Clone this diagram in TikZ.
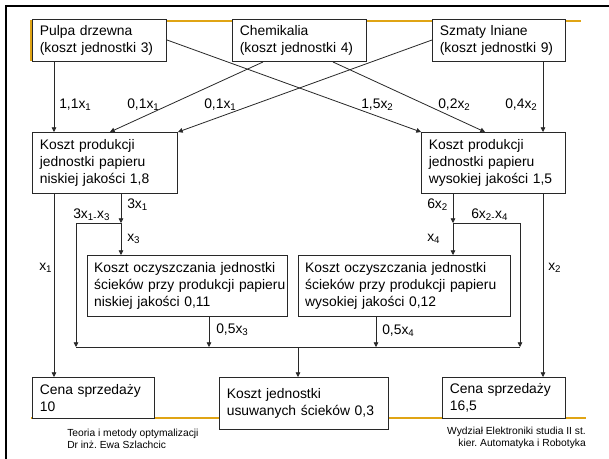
\documentclass[tikz,border=0pt]{standalone}
\usepackage{fontspec}
\setmainfont{Liberation Sans}
\usetikzlibrary{arrows.meta}
\definecolor{gold}{RGB}{224,164,20}
\definecolor{ink}{RGB}{40,40,40}
\frenchspacing
\begin{document}
\begin{tikzpicture}[x=0.75pt,y=-0.75pt,
  box/.style={draw=ink, line width=0.75pt, fill=white, anchor=north west, inner xsep=5.5pt, inner ysep=0pt, align=left, font=\fontsize{10.4}{12.75}\selectfont},
  wide/.style={inner xsep=5pt},
  arr/.style={draw=ink, line width=0.6pt, -{Triangle[length=3.5pt,width=3.5pt]}},
  ln/.style={draw=ink, line width=0.6pt},
  lbl/.style={anchor=west, inner sep=0pt, font=\fontsize{10.4}{12}\selectfont},
  foot/.style={inner sep=0pt, align=left, font=\fontsize{7.7}{9}\selectfont}]
\fill[white] (0,0) rectangle (609,459);
\useasboundingbox (0,0) rectangle (609,459);
% frame and decorative lines
\draw[black, line width=1.5pt] (6,459) -- (6,6) -- (609,6);
\draw[gold, line width=1.1pt] (31,61) -- (31,21) -- (581,21);
\draw[gold, line width=1.1pt] (31,418) -- (586,418);
% boxes
\node[box, minimum width=100.5pt, minimum height=31.5pt, text width=89.5pt] (p) at (32,19) {Pulpa drzewna\\(koszt jednostki 3)};
\node[box, minimum width=100.5pt, minimum height=31.5pt, text width=89.5pt] (c) at (232,19) {Chemikalia\\(koszt jednostki 4)};
\node[box, minimum width=99.75pt, minimum height=31.5pt, text width=88.75pt] (s) at (432,19) {Szmaty lniane\\(koszt jednostki 9)};
\node[box, minimum width=108.75pt, minimum height=45.75pt, text width=97.75pt] (lo) at (32,132) {Koszt produkcji\\jednostki papieru\\niskiej jakości 1,8};
\node[box, minimum width=108pt, minimum height=45.75pt, text width=97pt] (hi) at (421,132) {Koszt produkcji\\jednostki papieru\\wysokiej jakości 1,5};
\node[box, wide, minimum width=150pt, minimum height=45.75pt, text width=140pt] (cl) at (87,255) {Koszt oczyszczania jednostki\\\mbox{ścieków przy produkcji papieru}\\niskiej jakości 0,11};
\node[box, wide, minimum width=159pt, minimum height=45.75pt, text width=149pt] (ch) at (298,255) {Koszt oczyszczania jednostki\\\mbox{ścieków przy produkcji papieru}\\wysokiej jakości 0,12};
\node[box, minimum width=91.5pt, minimum height=30.75pt, text width=80.5pt] (s10) at (32,377) {Cena sprzedaży\\10};
\node[box, minimum width=126.75pt, minimum height=39pt, text width=115.75pt] (kj) at (219,377) {Koszt jednostki\\usuwanych ścieków 0,3};
\node[box, minimum width=92.25pt, minimum height=30.75pt, text width=81.25pt] (s16) at (442,377) {Cena sprzedaży\\16,5};
% junction coordinates
\coordinate (j1) at (121,223);
\coordinate (j1l) at (76,223);
\coordinate (bl) at (76,347);
\coordinate (j2) at (453,223);
\coordinate (j2r) at (520,223);
\coordinate (br) at (520,347);
% connectors top
\draw[arr] (p.south -| 54,0) -- (lo.north -| 54,0);
\draw[arr] (c.south -| 263,0) -- (lo.north -| 110,0);
\draw[arr] (s.west |- 0,40) -- (lo.north east);
\draw[arr] (p.east |- 0,40) -- (hi.north west);
\draw[arr] (c.south -| 333,0) -- (hi.north -| 485,0);
\draw[arr] (s.south -| 543,0) -- (hi.north -| 543,0);
% middle
\draw[arr] (lo.south -| 54,0) -- (s10.north -| 54,0);
\draw[arr] (lo.south -| j1) -- (j1);
\draw[arr] (j1) -- (cl.north -| j1);
\draw[arr] (j1) -- (j1l) -- (bl);
\draw[arr] (hi.south -| j2) -- (j2);
\draw[arr] (j2) -- (ch.north -| j2);
\draw[arr] (j2) -- (j2r) -- (br);
\draw[arr] (hi.south -| 543,0) -- (s16.north -| 543,0);
% bus
\draw[ln] (bl) -- (br);
\draw[arr] (cl.south -| 209,0) -- (bl -| 209,0);
\draw[arr] (ch.south -| 376,0) -- (bl -| 376,0);
\draw[arr] (bl -| 298,0) -- (kj.north -| 298,0);
% labels
\node[lbl] (l1) at (59,105) {1,1x\textsubscript{1}};
\node[lbl] (l2) at (127,105) {0,1x\textsubscript{1}};
\node[lbl] (l3) at (204,105) {0,1x\textsubscript{1}};
\node[lbl] (l4) at (361,105) {1,5x\textsubscript{2}};
\node[lbl] (l5) at (438,105) {0,2x\textsubscript{2}};
\node[lbl] (l6) at (505,105) {0,4x\textsubscript{2}};
\node[lbl] (l7) at (127,205) {3x\textsubscript{1}};
\node[lbl] (l8) at (73,215) {3x\textsubscript{1-}x\textsubscript{3}};
\node[lbl] (l9) at (127,239) {x\textsubscript{3}};
\node[lbl] (l10) at (427,205) {6x\textsubscript{2}};
\node[lbl] (l11) at (471,215) {6x\textsubscript{2-}x\textsubscript{4}};
\node[lbl] (l12) at (427,239) {x\textsubscript{4}};
\node[lbl] (l13) at (39,268) {x\textsubscript{1}};
\node[lbl] (l14) at (548,268) {x\textsubscript{2}};
\node[lbl] (l15) at (216,330) {0,5x\textsubscript{3}};
\node[lbl] (l16) at (382,331) {0,5x\textsubscript{4}};
% footers
\node[foot, anchor=north west] (f1) at (67,429) {Teoria i metody optymalizacji\\Dr inż. Ewa Szlachcic};
\node[foot, anchor=north east, align=right] (f2) at (586,427) {Wydział Elektroniki studia II st.\\kier. Automatyka i Robotyka};
\end{tikzpicture}
\end{document}
